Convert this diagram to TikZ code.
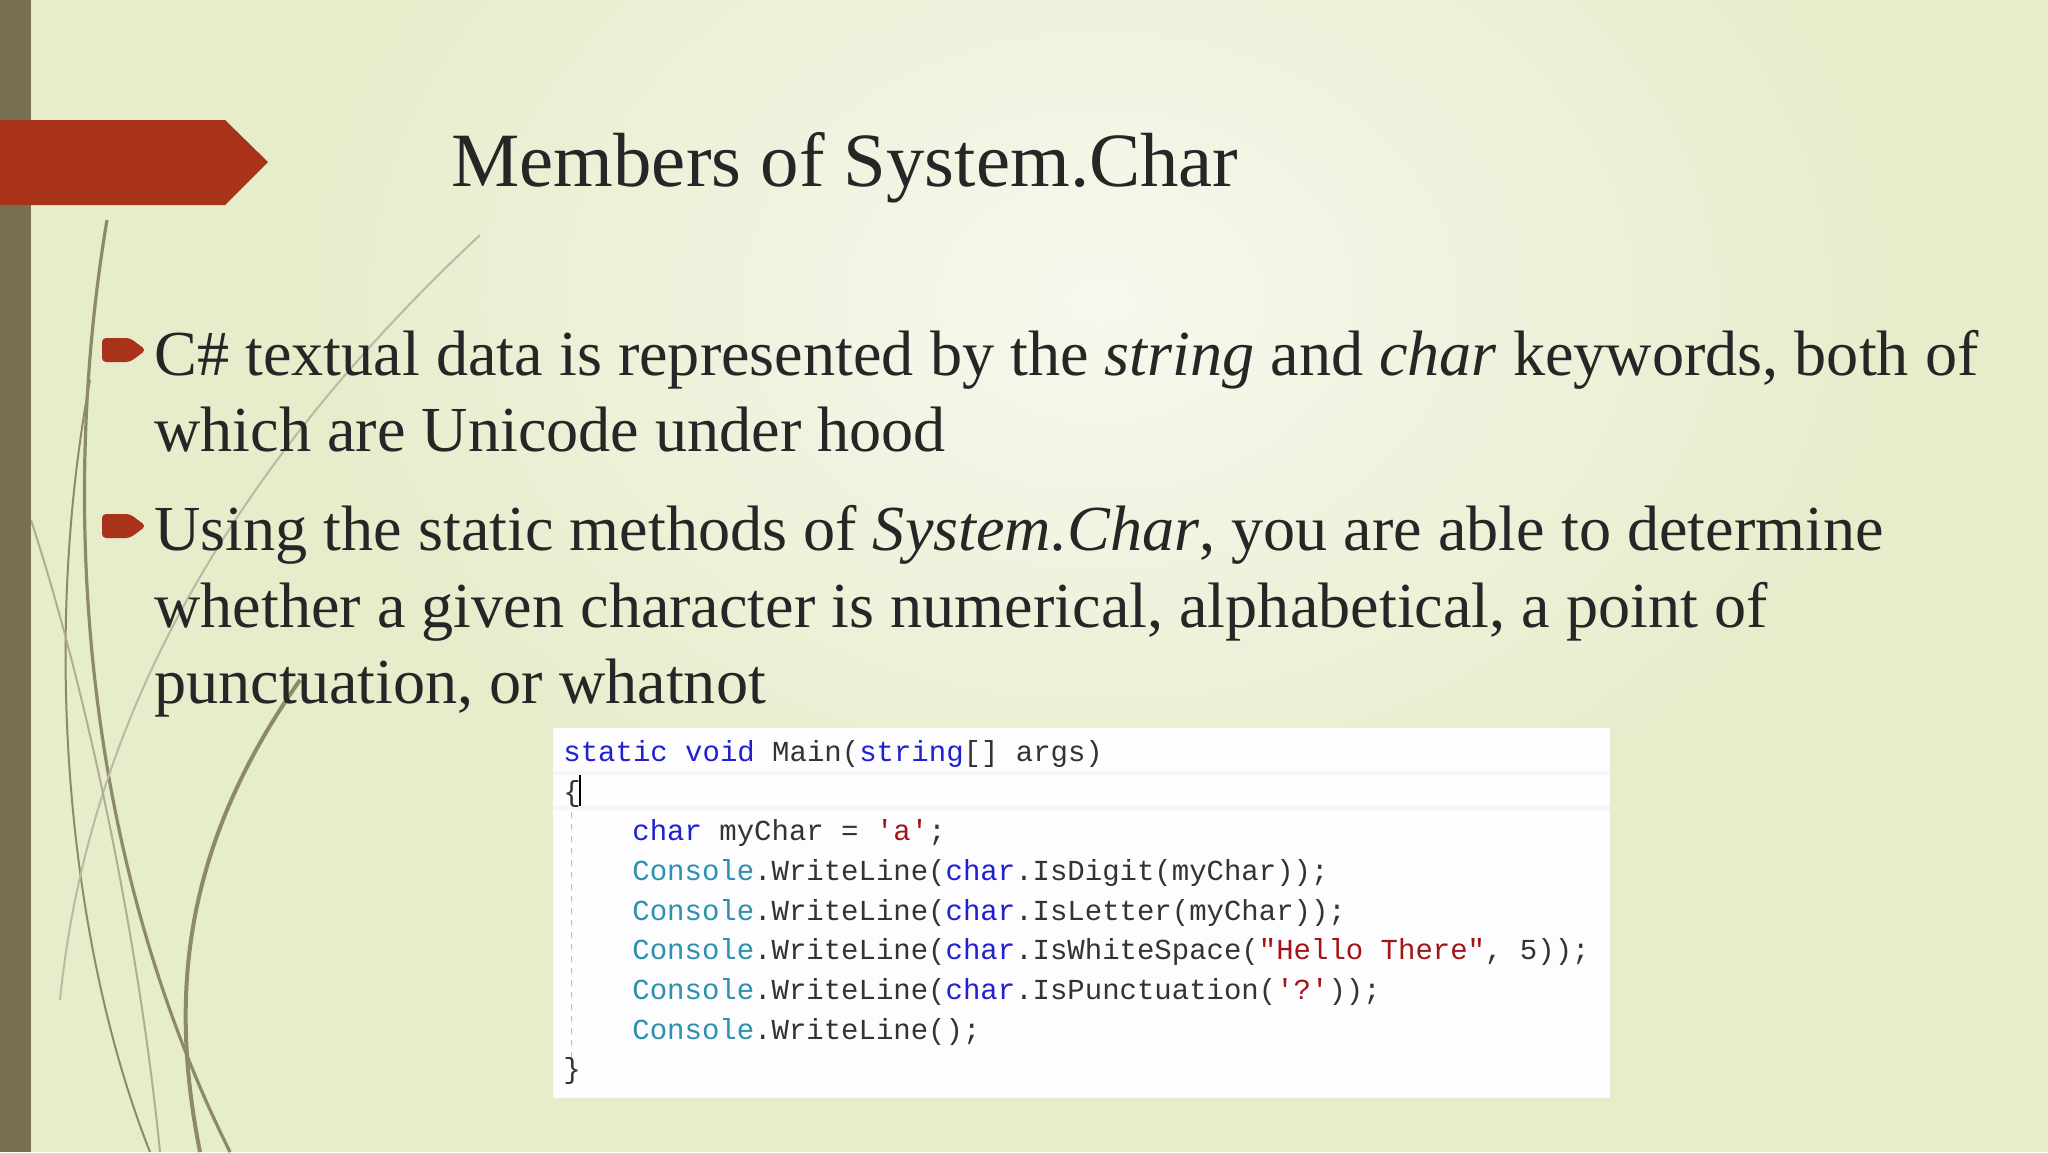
\documentclass[tikz,border=0pt]{standalone}
\usepackage{fontspec}
\setmainfont{Liberation Serif}
\setmonofont{Liberation Mono}
\definecolor{bgc}{HTML}{E6EDCB}
\definecolor{bgl}{HTML}{F7F8EE}
\definecolor{barc}{HTML}{786F52}
\definecolor{redc}{HTML}{A8321A}
\definecolor{kw}{HTML}{2020D0}
\definecolor{ty}{HTML}{2B91AF}
\definecolor{st}{HTML}{A31515}
\definecolor{curv}{HTML}{8E8A66}
\begin{document}
\begin{tikzpicture}[x=0.5pt,y=-0.5pt,
  body/.style={anchor=base west,inner sep=0,font=\fontsize{32.1}{36}\selectfont,text=black!85},
  code/.style={anchor=base west,inner sep=0,font=\ttfamily\fontsize{14.5}{16}\selectfont,text=black!80},
  bul/.style={fill=redc}]
\useasboundingbox (0,0) rectangle (2048,1152);
\fill[bgc] (0,0) rectangle (2048,1152);
\shade[inner color=bgl,outer color=bgc] (300,-300) rectangle (1900,900);
% decorative curves
\begin{scope}[curv,line width=1.6pt]
\draw (107,220) .. controls (60,500) and (80,850) .. (230,1152);
\draw[line width=1pt] (90,380) .. controls (40,650) and (70,950) .. (150,1152);
\draw[line width=1pt,curv!60] (480,235) .. controls (250,450) and (90,700) .. (60,1000);
\draw[line width=2pt] (300,680) .. controls (180,850) and (170,1000) .. (200,1152);
\draw[line width=1pt,curv!70] (31,520) .. controls (90,700) and (140,950) .. (160,1152);
\end{scope}
\fill[barc] (0,0) rectangle (31,1152);
\fill[redc] (0,120) -- (225,120) -- (268,162) -- (225,205) -- (0,205) -- cycle;
\node[anchor=base west,inner sep=0,font=\fontsize{38.4}{40}\selectfont,text=black!85] (title) at (451,186) {Members of System.Char};
% bullets
\foreach \n/\y in {b1/350,b2/526}{
  \fill[redc,rounded corners=2pt] (102,\y-12) -- (130,\y-12) -- (146,\y) -- (130,\y+12) -- (102,\y+12) -- cycle;
}
\node[body] (l1) at (154,375) {C\# textual data is represented by the \textit{string} and \textit{char} keywords, both of};
\node[body] (l2) at (154,451) {which are Unicode under hood};
\node[body] (l3) at (154,550) {Using the static methods of \textit{System.Char}, you are able to determine};
\node[body] (l4) at (154,627) {whether a given character is numerical, alphabetical, a point of};
\node[body] (l5) at (154,703) {punctuation, or whatnot};
% code box
\fill[white!60!blue!2] (553,728) rectangle (1610,1098);
\fill[black!4] (553,771) rectangle (1610,775);
\fill[black!4] (553,806) rectangle (1610,810);
\draw[black!25,dashed,line width=0.5pt] (571,812) -- (571,1060);
\draw[black,line width=0.7pt] (580,775) -- (580,806);
\node[code] (c1) at (563,761) {\textcolor{kw}{static void} Main(\textcolor{kw}{string}[] args)};
\node[code] (c2) at (563,801) {\{};
\node[code] (c3) at (632,840) {\textcolor{kw}{char} myChar = \textcolor{st}{'a'};};
\node[code] (c4) at (632,880) {\textcolor{ty}{Console}.WriteLine(\textcolor{kw}{char}.IsDigit(myChar));};
\node[code] (c5) at (632,920) {\textcolor{ty}{Console}.WriteLine(\textcolor{kw}{char}.IsLetter(myChar));};
\node[code] (c6) at (632,959) {\textcolor{ty}{Console}.WriteLine(\textcolor{kw}{char}.IsWhiteSpace(\textcolor{st}{"Hello There"}, 5));};
\node[code] (c7) at (632,999) {\textcolor{ty}{Console}.WriteLine(\textcolor{kw}{char}.IsPunctuation(\textcolor{st}{'?'}));};
\node[code] (c8) at (632,1039) {\textcolor{ty}{Console}.WriteLine();};
\node[code] (c9) at (563,1078) {\}};
\end{tikzpicture}
\end{document}
